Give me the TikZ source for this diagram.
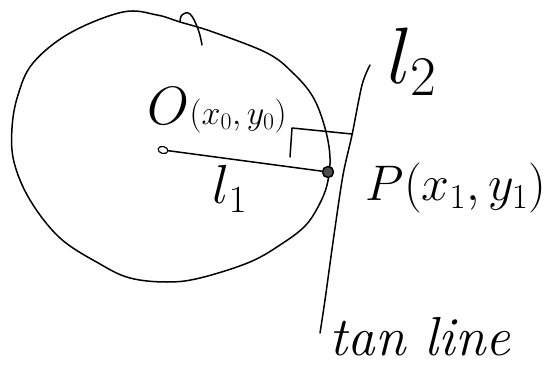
\RequirePackage{fix-cm}
\documentclass[tikz,border=0pt]{standalone}
\usetikzlibrary{shapes.geometric}
\begin{document}
\begin{tikzpicture}[x=1pt,y=-1pt,line width=1.5pt,line cap=round,line join=round,
  pen/.style={draw=black},
  lbl/.style={inner sep=0pt,text=black},
  fs/.style={font=\fontsize{#1}{#1}\selectfont}]
\useasboundingbox (0,0) rectangle (553,377);
% circle-like closed curve
\draw[pen] plot[smooth cycle,tension=0.6] coordinates {
 (123,12) (157,15) (180,22) (213,32) (267,53) (293,73) (313,97) (325,128)
 (330,158) (327,185) (318,207) (305,226) (283,243) (250,262) (200,278)
 (167,282) (130,278) (100,264) (60,238) (30,200) (14,162) (12,128)
 (18,95) (33,63) (70,33)};
% overlap stroke at the top
\draw[pen] plot[smooth,tension=0.7] coordinates {(180,22) (182,15) (190,14) (198,29) (202,45)};
% centre and point of tangency
\node (O) [ellipse,draw,line width=1.2pt,minimum width=10pt,minimum height=7pt,inner sep=0pt,rotate=-15] at (163,150) {};
\node (P) [circle,draw,fill=black!70,line width=1.5pt,minimum size=11pt,inner sep=0pt] at (328,172) {};
\draw[pen] (O) -- (P);
% tangent line l2
\coordinate (T1) at (370,65);
\coordinate (T2) at (320,333);
\draw[pen] plot[smooth,tension=0.5] coordinates {(T1) (362,85) (352,135) (343,175) (334,235) (325,300) (T2)};
% right angle mark
\coordinate (R0) at (292,128);
\coordinate (R1) at (290,157);
\coordinate (R2) at (352,134);
\draw[pen] (R1) -- (R0) -- (R2);
% labels
\node (lO) [lbl,fs=34,anchor=base west] at (147,124) {{\fontsize{54}{54}\selectfont$O$}$(x_0,y_0)$};
\node (lP) [lbl,fs=50] at (456,188) {$P(x_1,y_1)$};
\node (l1) [lbl,fs=55] at (230,189) {$l_1$};
\node (l2) [lbl,fs=80] at (412,62) {$l_2$};
\node (lt) [lbl,fs=55] at (420,337) {\itshape tan line};
\end{tikzpicture}
\end{document}
